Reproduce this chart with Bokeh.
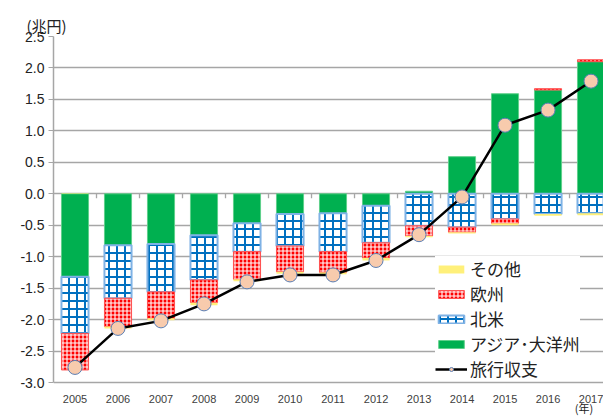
import numpy as np
from bokeh.plotting import figure
from bokeh.models import (Range1d, FixedTicker, Label, Legend, LegendItem)
from bokeh.embed import file_html
from bokeh.resources import INLINE
from bokeh.core.properties import value

# ---- data (trillion yen) ----
years = [2005, 2006, 2007, 2008, 2009, 2010, 2011, 2012, 2013, 2014, 2015, 2016, 2017]
asia_oceania = [-1.32, -0.82, -0.80, -0.66, -0.47, -0.32, -0.31, -0.19, 0.04, 0.59, 1.59, 1.65, 2.10]
north_america = [-0.90, -0.84, -0.76, -0.71, -0.45, -0.51, -0.61, -0.59, -0.51, -0.53, -0.40, -0.32, -0.31]
europe = [-0.58, -0.45, -0.42, -0.36, -0.44, -0.41, -0.33, -0.24, -0.16, -0.08, -0.07, 0.02, 0.03]
other = [0.01, -0.03, -0.03, -0.04, -0.03, -0.03, -0.03, -0.04, -0.02, -0.02, -0.03, -0.03, -0.03]
travel_balance = [-2.76, -2.14, -2.02, -1.75, -1.40, -1.29, -1.29, -1.06, -0.65, -0.05, 1.09, 1.33, 1.79]
year_labels = [str(y) for y in years]
y_ticks = [-3.0, -2.5, -2.0, -1.5, -1.0, -0.5, 0.0, 0.5, 1.0, 1.5, 2.0, 2.5]
y_tick_labels = ["-3.0", "-2.5", "-2.0", "-1.5", "-1.0", "-0.5", "0.0", "0.5", "1.0", "1.5", "2.0", "2.5"]
series_names = ["アジア･大洋州", "北米", "欧州", "その他"]
line_name = "旅行収支"
unit_label = "(兆円)"
year_label = "(年)"

x = np.array(years, dtype=float)
y_min, y_max = y_ticks[0], y_ticks[-1]

# frame reaches the bottom of the canvas; the value axis stops at -3.0
p = figure(width=603, height=416, output_backend="svg", toolbar_location=None,
           x_axis_location=None,
           x_range=Range1d(2004.5, 2017.29), y_range=Range1d(-3.54, y_max),
           min_border_left=53, min_border_right=0, min_border_top=36, min_border_bottom=0)
p.outline_line_color = None
p.background_fill_color = "white"
p.border_fill_color = "white"

# title used as the unit label above the y axis
p.title.text = unit_label
p.title.align = "left"
p.title.offset = -27
p.title.text_font = "Noto Sans CJK JP"
p.title.text_font_size = "15px"
p.title.text_font_style = "normal"
p.title.text_color = "#222222"
p.title.standoff = 1

p.yaxis.ticker = FixedTicker(ticks=y_ticks)
p.yaxis.bounds = (y_min, y_max)
p.yaxis.major_label_overrides = dict(zip(y_ticks, y_tick_labels))
p.yaxis.axis_line_color = "#a6a6a6"
p.yaxis.axis_line_width = 1.5
p.yaxis.major_tick_line_color = "#a6a6a6"
p.yaxis.major_tick_out = 5
p.yaxis.major_tick_in = 0
p.yaxis.minor_tick_line_color = None
p.yaxis.major_label_text_font = "Liberation Sans"
p.yaxis.major_label_text_font_size = "14px"
p.yaxis.major_label_text_color = "#222222"
p.yaxis.major_label_standoff = 4

p.xgrid.grid_line_color = None
p.ygrid.ticker = FixedTicker(ticks=y_ticks)
p.ygrid.grid_line_color = "#a6a6a6"
p.ygrid.grid_line_width = 1.3

# category labels below the bottom gridline
p.text(x=x, y=np.full(len(years), y_min), text=year_labels, y_offset=16,
       text_align="center", text_baseline="middle",
       text_font=value("Liberation Sans"), text_font_size="11px", text_color="#404040")
p.add_layout(Label(x=2016.62, y=-3.525, text=year_label, text_baseline="bottom",
                   text_font="Noto Sans CJK JP", text_font_size="11px", text_color="#222222"))

# small category-boundary ticks on the zero line
bounds = x[:-1] + 0.5
p.segment(x0=bounds, x1=bounds, y0=np.zeros(len(bounds)), y1=np.full(len(bounds), -0.07),
          line_color="#a6a6a6", line_width=1.3)

# stacked bars (positive and negative stacked separately)
pos_base = np.zeros(len(years))
neg_base = np.zeros(len(years))
stack = []
for vals in [asia_oceania, north_america, europe, other]:
    v = np.array(vals)
    bottom = np.where(v >= 0, pos_base, neg_base)
    top = bottom + v
    pos_base = np.where(v >= 0, top, pos_base)
    neg_base = np.where(v < 0, top, neg_base)
    stack.append((bottom, top))

bw = 0.63
r_asia = p.vbar(x=x, bottom=stack[0][0], top=stack[0][1], width=bw,
                fill_color="#00B050", line_color="#5fd08a", line_width=1)
r_na = p.vbar(x=x, bottom=stack[1][0], top=stack[1][1], width=bw,
              fill_color="white", line_color="#7fb2e5", line_width=2,
              hatch_pattern="cross", hatch_color="#0070C0", hatch_scale=8, hatch_weight=2)
r_eu = p.vbar(x=x, bottom=stack[2][0], top=stack[2][1], width=bw,
              fill_color="#FF0000", line_color="#ff5050", line_width=1,
              hatch_pattern="cross", hatch_color="white", hatch_scale=4, hatch_weight=1.1)
r_oth = p.vbar(x=x, bottom=stack[3][0], top=stack[3][1], width=bw,
               fill_color="#FFF07A", line_color=None)

r_line = p.line(x, travel_balance, line_color="black", line_width=2.5)
r_pts = p.scatter(x, travel_balance, size=14, fill_color="#F8CBAD",
                  line_color="#5B7FB5", line_width=1)

legend = Legend(items=[
    LegendItem(label=series_names[3], renderers=[r_oth]),
    LegendItem(label=series_names[2], renderers=[r_eu]),
    LegendItem(label=series_names[1], renderers=[r_na]),
    LegendItem(label=series_names[0], renderers=[r_asia]),
    LegendItem(label=line_name, renderers=[r_line, r_pts]),
], location=(382, 35))
legend.background_fill_color = "white"
legend.background_fill_alpha = 1.0
legend.border_line_color = None
legend.label_text_font = "Noto Sans CJK JP"
legend.label_text_font_size = "17px"
legend.label_text_color = "#222222"
legend.glyph_width = 32
legend.glyph_height = 10
legend.spacing = -2
legend.padding = 5
legend.label_standoff = 3
legend.label_height = 18
p.add_layout(legend, "center")

open("out.html", "w").write(file_html(p, INLINE))
